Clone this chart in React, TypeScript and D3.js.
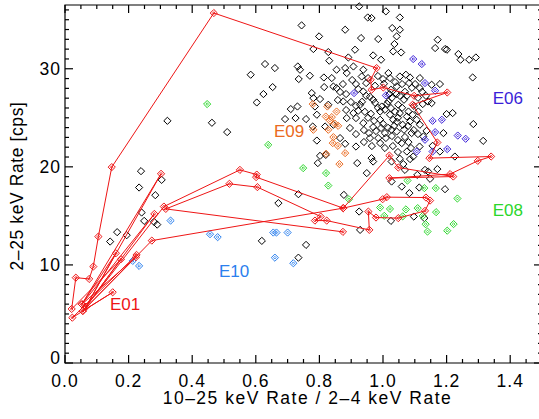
import React from "react";
import * as d3 from "d3";

const X_TICKS = [0, 0.2, 0.4, 0.6, 0.8, 1.0, 1.2, 1.4];
const Y_TICKS = [0, 10, 20, 30];
const X_TITLE = "10\u201325 keV Rate / 2\u20134 keV Rate";
const Y_TITLE = "2\u201325 keV Rate [cps]";

// other events (black)
const OTHER: [number, number][] = [
  [0.239, 19.56], [0.233, 17.89], [0.304, 18.67], [0.284, 17.11], [0.322, 24.69], [0.462, 24.49],
  [0.51, 23.54], [0.584, 29.39], [0.629, 30.48], [0.603, 26.56], [0.624, 27.42], [0.142, 12.38],
  [0.164, 13.34], [0.194, 13.03], [0.241, 15.34], [0.249, 14.49], [0.28, 14.39], [0.29, 14.11],
  [0.619, 12.45], [0.671, 16.3], [0.758, 12.04], [0.734, 10.74], [0.925, 15.44], [0.928, 13.57],
  [1.025, 14.49], [1.097, 14.93], [1.13, 14.77],
  [0.744, 34.42], [0.799, 33.3], [0.781, 32.01], [0.828, 31.7], [0.831, 30.82], [0.66, 30.07],
  [0.732, 30.23], [0.739, 29.9], [0.77, 29.29], [0.735, 28.95], [0.814, 29.11], [0.653, 28.13],
  [0.776, 27.52], [0.815, 28.13], [0.781, 27.01], [0.802, 26.91], [0.71, 25.89], [0.731, 26.15],
  [0.786, 26.15], [0.828, 26.33], [0.692, 24.87], [0.725, 24.97], [0.758, 24.87], [0.792, 25.31],
  [0.818, 24.11], [0.779, 24.11], [0.792, 22.68], [0.82, 21.22], [0.802, 21.12], [0.795, 20.38],
  [0.734, 17.21],
  [0.925, 36.36], [0.952, 35.23], [0.964, 35.17], [1.009, 35.85], [1.053, 35.23], [0.881, 33.98],
  [1.029, 34.15], [1.053, 33.98], [0.931, 33.13], [0.985, 33.03], [1.043, 33.3], [1.172, 32.96],
  [1.036, 32.52], [1.164, 32.11], [1.195, 32.01], [1.201, 31.94], [0.912, 31.94], [0.969, 31.36],
  [1.032, 31.77], [1.057, 31.66], [0.994, 30.92], [1.237, 31.5], [1.271, 30.92], [1.292, 31.15],
  [1.244, 30.92], [1.282, 29.11], [0.891, 31.15], [0.854, 29.9], [0.886, 29.56], [0.881, 30.07],
  [0.907, 30.23], [0.938, 29.9], [0.933, 29.21], [0.947, 28.54], [1.017, 29.56], [1.022, 29.05],
  [1.053, 29.21], [1.072, 29.39], [1.085, 29.11], [1.082, 28.54], [1.043, 28.19], [1.02, 27.42],
  [1.043, 27.42], [1.116, 29.05], [1.153, 28.37], [1.179, 28.44], [1.142, 26.66], [1.153, 26.5],
  [1.125, 26.4], [0.839, 29.05], [0.844, 28.19], [0.884, 27.42], [0.922, 27.93], [0.938, 27.68],
  [0.969, 26.84], [0.875, 26.66], [0.907, 25.48], [0.922, 25.71], [0.938, 24.46], [0.969, 24.05],
  [0.991, 25.64], [0.991, 24.8], [0.996, 26.15], [1.017, 26.66], [1.025, 25.99], [1.022, 25.31],
  [1.032, 24.8], [1.048, 26.33], [1.053, 25.48], [1.062, 24.29], [1.075, 25.13], [1.08, 25.64],
  [1.085, 24.62], [1.093, 25.31], [1.106, 24.8], [1.111, 25.64], [1.116, 24.29], [1.09, 23.44],
  [1.043, 23.6], [1.027, 23.78], [1.006, 23.44], [0.959, 22.93], [0.985, 22.93], [0.991, 22.42],
  [1.059, 22.42], [1.08, 22.52], [1.075, 21.56], [1.127, 23.09], [1.137, 23.67], [1.19, 23.44],
  [1.2, 25.38], [1.219, 25.48], [1.284, 24.36], [1.315, 22.65], [1.226, 21.05], [1.179, 21.56],
  [0.919, 20.38], [0.964, 20.89], [0.969, 20.54], [1.027, 20.54], [1.053, 20.82], [1.064, 20.28],
  [1.085, 20.79], [0.949, 19.36], [1.069, 19.69], [1.108, 19.18], [1.132, 19.69], [1.142, 19.52],
  [1.171, 19.77], [1.195, 17.72], [1.059, 17.99], [1.083, 17.32], [0.877, 17.14], [1.114, 17.89],
  [1.148, 18.78], [0.854, 28.03], [0.844, 24.29], [0.865, 22.93], [0.886, 24.97],
  [0.959, 27.14], [0.975, 26.53], [0.984, 26.02], [1.006, 25.82], [1.013, 26.43], [1.028, 27.04],
  [1.038, 25.61], [1.047, 25.0], [1.06, 26.02], [1.066, 26.84], [1.075, 27.24], [1.091, 28.06],
  [0.928, 26.33], [0.943, 25.61], [0.953, 25.0], [0.962, 25.41], [0.972, 24.69], [1.0, 24.39],
  [1.016, 23.98], [1.035, 24.18], [1.044, 24.59], [1.066, 23.78], [1.079, 24.18], [1.097, 26.22],
  [1.11, 27.04], [1.123, 27.65], [1.135, 27.24], [1.069, 27.65], [1.053, 27.24], [1.025, 27.86],
  [1.003, 28.47], [0.975, 28.27], [0.947, 27.24], [0.934, 26.63], [0.915, 26.22],
  [1.156, 22.14], [1.115, 22.07], [1.095, 21.05], [0.915, 22.07], [0.881, 22.35], [1.027, 18.5],
  [0.903, 28.85], [0.915, 28.44], [0.953, 29.05], [0.984, 29.26], [1.0, 28.95], [1.038, 28.64],
  [1.06, 28.44], [1.101, 28.44], [1.116, 28.03], [0.915, 24.97], [0.94, 23.75], [0.956, 23.44],
  [0.978, 23.65], [0.994, 23.96], [1.009, 22.94], [1.028, 23.14], [1.047, 22.73], [1.069, 23.04],
  [1.097, 23.75], [1.11, 23.34], [0.94, 22.53], [0.965, 22.12], [1.006, 21.92], [1.031, 22.12],
  [1.047, 21.51], [1.088, 21.92], [0.896, 23.96], [0.915, 23.34], [0.884, 25.79], [0.899, 26.61],
  [0.865, 27.63], [0.858, 26.81], [0.874, 28.44],
];

const E06: [number, number][] = [
  [1.095, 30.99], [1.122, 30.48], [1.132, 28.54], [1.164, 27.76], [0.909, 27.52], [1.009, 27.28],
  [1.156, 24.69], [1.185, 24.8], [1.164, 23.54], [1.235, 23.19], [1.26, 22.86], [1.132, 22.76],
  [1.202, 21.81], [1.106, 21.56], [1.156, 21.56],
];

const E09: [number, number][] = [
  [0.779, 26.4], [0.825, 26.15], [0.854, 25.64], [0.82, 25.13], [0.839, 25.07], [0.849, 24.39],
  [0.859, 24.18], [0.781, 23.78], [0.828, 23.78], [0.844, 23.03], [0.842, 22.42], [0.858, 22.14],
  [0.821, 21.33], [0.881, 21.4], [0.863, 20.28], [0.833, 24.72],
];

const E08: [number, number][] = [
  [0.447, 26.4], [0.639, 22.24], [0.749, 19.87], [0.821, 19.36], [0.828, 18.09], [0.893, 16.7],
  [1.077, 18.6], [1.13, 17.83], [1.166, 17.83], [1.234, 16.77], [0.991, 15.85], [1.004, 15.0],
  [1.022, 15.71], [1.062, 14.95], [1.072, 15.66], [1.109, 15.79], [1.125, 15.0], [1.134, 14.15],
  [1.14, 13.4], [1.167, 15.38], [1.202, 13.49], [1.222, 14.16],
];

const E10: [number, number][] = [
  [0.213, 10.41], [0.233, 9.9], [0.332, 14.52], [0.456, 13.13], [0.48, 12.83], [0.655, 13.3],
  [0.665, 13.3], [0.7, 13.3], [0.66, 10.74], [0.718, 10.17],
];

// E01 track, in time order
const E01: [number, number][] = [
  [0.225, 11.02], [0.023, 4.62], [0.15, 7.21], [0.056, 5.31], [0.223, 10.79], [0.053, 5.99],
  [0.16, 11.19], [0.066, 5.74], [0.176, 10.58], [0.021, 5.51], [0.034, 8.7], [0.076, 8.57],
  [0.089, 9.83], [0.105, 12.89], [0.147, 19.97], [0.468, 35.68], [0.98, 30.07], [0.961, 28.88],
  [0.964, 27.86], [1.001, 28.09], [1.098, 27.24], [1.202, 27.58], [1.093, 26.33], [1.171, 22.48],
  [1.146, 20.89], [1.34, 21.05], [1.298, 20.61], [1.211, 19.26], [1.02, 18.85], [1.221, 19.01],
  [1.048, 19.93], [1.02, 21.15], [0.875, 15.79], [0.273, 12.48], [0.056, 5.31], [0.281, 15.2],
  [0.053, 5.99], [0.302, 19.29], [0.066, 5.74], [0.311, 15.95], [0.55, 19.69], [0.603, 19.21],
  [0.601, 18.95], [0.875, 15.79], [0.999, 16.7], [1.012, 16.91], [1.135, 16.87], [1.148, 16.56],
  [1.132, 15.51], [1.048, 14.77], [0.978, 14.83], [0.954, 15.44], [0.957, 13.57], [0.823, 14.52],
  [0.786, 14.52], [0.804, 14.93], [0.605, 17.93], [0.517, 18.27], [0.317, 15.71], [0.874, 13.37],
];

const COLORS = {
  other: "#000000",
  e06: "#3a1fd8",
  e09: "#ea6a20",
  e08: "#2bd62b",
  e10: "#2b80ee",
  e01: "#ee1515",
};

const LABELS = [
  { text: "E06", x: 1.345, y: 26.4, color: COLORS.e06 },
  { text: "E09", x: 0.657, y: 23.04, color: COLORS.e09 },
  { text: "E08", x: 1.345, y: 14.99, color: COLORS.e08 },
  { text: "E10", x: 0.484, y: 8.77, color: COLORS.e10 },
  { text: "E01", x: 0.1415, y: 5.4, color: COLORS.e01 },
];

const FONT = "'Liberation Sans', Arial, Helvetica, sans-serif";

export default function App() {
  const left = 65, right = 542, top = 5, bottom = 363;
  const x = d3.scaleLinear().domain([0, 1.5]).range([left, right]);
  const y = d3.scaleLinear().domain([0, 36.5]).range([bottom, top]);

  const diamond = (p: [number, number], color: string, inner: boolean, key: string) => {
    const cx = x(p[0]), cy = y(p[1]);
    const r = 3.6;
    const d = `M${cx},${cy - r}L${cx + r},${cy}L${cx},${cy + r}L${cx - r},${cy}Z`;
    const ri = 1.3;
    const di = `M${cx},${cy - ri}L${cx + ri},${cy}L${cx},${cy + ri}L${cx - ri},${cy}Z`;
    return (
      <g key={key}>
        <path d={d} fill="none" stroke={color} strokeWidth={1} />
        {inner && <path d={di} fill="none" stroke={color} strokeWidth={0.9} />}
      </g>
    );
  };

  const line = d3.line<[number, number]>().x((d) => x(d[0])).y((d) => y(d[1]));

  const xMinor = d3.range(0, 1.5001, 0.05);
  const yMinor = d3.range(0, 36.5, 1);

  return (
    <svg width={539} height={419} style={{ position: "absolute", left: 0, top: 0, background: "#fff" }}>
      <rect x={0} y={0} width={539} height={419} fill="#fff" />
      <g stroke="#000" strokeWidth={1.2} fill="none">
        <path d={`M${left},${top}H${right}V${bottom}H${left}Z`} />
        {xMinor.map((v, i) => {
          const major = Math.abs(v / 0.2 - Math.round(v / 0.2)) < 1e-6;
          const len = major ? 8 : 4;
          return (
            <g key={"xt" + i}>
              <line x1={x(v)} x2={x(v)} y1={bottom} y2={bottom - len} />
              <line x1={x(v)} x2={x(v)} y1={top} y2={top + len} />
            </g>
          );
        })}
        {yMinor.map((v, i) => {
          const major = v % 10 === 0;
          const len = major ? 8 : 4;
          return (
            <g key={"yt" + i}>
              <line x1={left} x2={left + len} y1={y(v)} y2={y(v)} />
              <line x1={right} x2={right - len} y1={y(v)} y2={y(v)} />
            </g>
          );
        })}
      </g>
      <g fontFamily={FONT} fontSize={17.5} fill="#000">
        {X_TICKS.map((v) => (
          <text key={"xl" + v} x={x(v)} y={387} textAnchor="middle" letterSpacing={1}>
            {v.toFixed(1)}
          </text>
        ))}
        {Y_TICKS.map((v) => (
          <text key={"yl" + v} x={61} y={Math.min(y(v), 357.5) + 6.3} textAnchor="end" letterSpacing={1}>
            {v}
          </text>
        ))}
        <text x={307.5} y={403.5} textAnchor="middle" letterSpacing={1.5}>{X_TITLE}</text>
        <text transform={`translate(23.3,186) rotate(-90)`} textAnchor="middle" letterSpacing={0.6}>{Y_TITLE}</text>
      </g>
      <g>
        {OTHER.map((p, i) => diamond(p, COLORS.other, false, "o" + i))}
        {E06.map((p, i) => diamond(p, COLORS.e06, true, "a" + i))}
        {E09.map((p, i) => diamond(p, COLORS.e09, true, "b" + i))}
        {E08.map((p, i) => diamond(p, COLORS.e08, true, "c" + i))}
        {E10.map((p, i) => diamond(p, COLORS.e10, true, "d" + i))}
        <path d={line(E01) || ""} fill="none" stroke={COLORS.e01} strokeWidth={1} />
        {E01.map((p, i) => diamond(p, COLORS.e01, true, "e" + i))}
      </g>
      <g fontFamily={FONT} fontSize={17}>
        {LABELS.map((l) => (
          <text key={l.text} x={x(l.x)} y={y(l.y)} fill={l.color}>
            {l.text}
          </text>
        ))}
      </g>
    </svg>
  );
}
